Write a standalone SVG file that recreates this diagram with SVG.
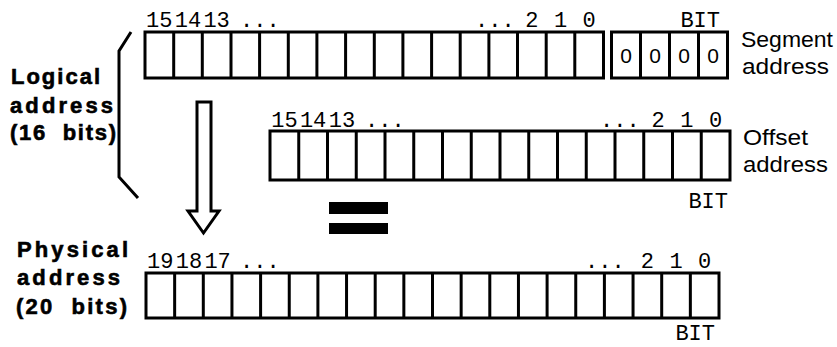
<svg xmlns="http://www.w3.org/2000/svg" width="837" height="347" viewBox="0 0 837 347">
<style>
.reg{fill:none;stroke:#000;stroke-width:3}
.num{font-family:"Liberation Mono","DejaVu Sans Mono",monospace;font-size:22px;fill:#000}
.mid{text-anchor:middle}
.lbl{font-family:"Liberation Sans",Arial,sans-serif;font-size:22px;font-weight:bold;fill:#000;stroke:#000;stroke-width:0.6}
.rl{font-family:"Liberation Sans",Arial,sans-serif;font-size:22px;fill:#000}
.zero{font-family:"Liberation Sans",Arial,sans-serif;font-size:21px;fill:#000;text-anchor:middle}
</style>
<rect width="837" height="347" fill="#fff"/>

<g id="segment-register">
<rect class="reg" x="145" y="32" width="458.5" height="46"/>
<path class="reg" d="M173.7 32V78M202.3 32V78M231 32V78M259.6 32V78M288.3 32V78M316.9 32V78M345.6 32V78M374.3 32V78M402.9 32V78M431.6 32V78M460.2 32V78M488.9 32V78M517.5 32V78M546.2 32V78M574.8 32V78"/>
<text class="num mid" x="159.3" y="27">15</text>
<text class="num mid" x="188" y="27">14</text>
<text class="num mid" x="216.6" y="27">13</text>
<text class="num" x="240" y="27">...</text>
<text class="num" x="475" y="27">...</text>
<text class="num mid" x="531.9" y="27">2</text>
<text class="num mid" x="560.5" y="27">1</text>
<text class="num mid" x="589.2" y="27">0</text>
<text class="num" x="720" y="27" text-anchor="end">BIT</text>
</g>

<g id="segment-zeros">
<rect class="reg" x="611.5" y="32" width="116" height="46"/>
<path class="reg" d="M640.5 32V78M669.5 32V78M698.5 32V78"/>
<text class="zero" x="626" y="63">0</text>
<text class="zero" x="655" y="63">0</text>
<text class="zero" x="684" y="63">0</text>
<text class="zero" x="713" y="63">0</text>
</g>

<g id="segment-label">
<text class="rl" x="741" y="47" textLength="92" lengthAdjust="spacingAndGlyphs">Segment</text>
<text class="rl" x="742" y="74" textLength="87" lengthAdjust="spacingAndGlyphs">address</text>
</g>

<g id="logical-label">
<text class="lbl" x="11" y="84" textLength="89" lengthAdjust="spacing">Logical</text>
<text class="lbl" x="10" y="113" textLength="103" lengthAdjust="spacing">address</text>
<text class="lbl" x="10" y="140" textLength="106" lengthAdjust="spacing">(16&#160; bits)</text>
</g>

<g id="bracket">
<polyline class="reg" points="131,32 119,51 119,177 138,198"/>
</g>

<g id="offset-register">
<rect class="reg" x="270" y="131" width="460" height="49"/>
<path class="reg" d="M298.75 131V180M327.5 131V180M356.25 131V180M385 131V180M413.75 131V180M442.5 131V180M471.25 131V180M500 131V180M528.75 131V180M557.5 131V180M586.25 131V180M615 131V180M643.75 131V180M672.5 131V180M701.25 131V180"/>
<text class="num mid" x="284.4" y="127">15</text>
<text class="num mid" x="313.1" y="127">14</text>
<text class="num mid" x="341.9" y="127">13</text>
<text class="num" x="365" y="127">...</text>
<text class="num" x="600" y="127">...</text>
<text class="num mid" x="658.1" y="127">2</text>
<text class="num mid" x="686.9" y="127">1</text>
<text class="num mid" x="715.6" y="127">0</text>
<text class="num" x="728" y="208" text-anchor="end">BIT</text>
</g>

<g id="offset-label">
<text class="rl" x="743" y="145" textLength="65" lengthAdjust="spacingAndGlyphs">Offset</text>
<text class="rl" x="743" y="172" textLength="85" lengthAdjust="spacingAndGlyphs">address</text>
</g>

<g id="conversion-arrow">
<polygon class="reg" fill="#fff" points="197,102 211,102 211,211 219,211 203.5,233 188,211 197,211"/>
</g>

<g id="equals">
<rect x="329" y="202" width="59" height="12" fill="#000"/>
<rect x="329" y="223" width="59" height="11" fill="#000"/>
</g>

<g id="physical-label">
<text class="lbl" x="17" y="257" textLength="111" lengthAdjust="spacing">Physical</text>
<text class="lbl" x="17" y="285" textLength="103" lengthAdjust="spacing">address</text>
<text class="lbl" x="16" y="314" textLength="111" lengthAdjust="spacing">(20&#160; bits)</text>
</g>

<g id="physical-register">
<rect class="reg" x="146" y="273" width="573" height="45"/>
<path class="reg" d="M174.65 273V318M203.3 273V318M231.95 273V318M260.6 273V318M289.25 273V318M317.9 273V318M346.55 273V318M375.2 273V318M403.85 273V318M432.5 273V318M461.15 273V318M489.8 273V318M518.45 273V318M547.1 273V318M575.75 273V318M604.4 273V318M633.05 273V318M661.7 273V318M690.35 273V318"/>
<text class="num mid" x="160.3" y="268">19</text>
<text class="num mid" x="189" y="268">18</text>
<text class="num mid" x="217.6" y="268">17</text>
<text class="num" x="240" y="268">...</text>
<text class="num" x="585" y="268">...</text>
<text class="num mid" x="647.4" y="268">2</text>
<text class="num mid" x="676" y="268">1</text>
<text class="num mid" x="704.7" y="268">0</text>
<text class="num" x="715" y="340" text-anchor="end">BIT</text>
</g>
</svg>
